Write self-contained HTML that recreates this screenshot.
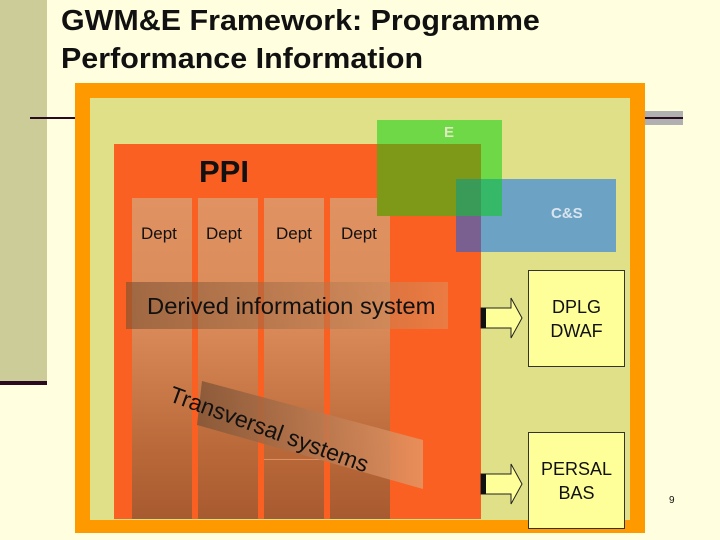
<!DOCTYPE html><html><head><style>
body{margin:0;width:720px;height:540px;background:#ffffdf;position:relative;overflow:hidden;font-family:"Liberation Sans",Arial,sans-serif}
div{position:absolute;box-sizing:border-box}
.t{font-weight:bold;font-size:29px;color:#111;left:61px;white-space:nowrap;transform:scaleX(1.05);transform-origin:0 0}
.dept{top:198px;height:321px;width:60px;background:linear-gradient(#e09262,#da8a58 40%,#b86838 80%,#a85a30)}
.dl{font-size:17px;color:#111;top:224px}
.box{background:#ffff99;border:1px solid #333;width:97px;height:97px;left:528px;font-size:18px;text-align:center;color:#111;line-height:24px}
</style></head><body>
<div style="left:0;top:0;width:47px;height:383px;background:#cccc99"></div>
<div style="left:0;top:381px;width:47px;height:4px;background:#2a0a20"></div>
<div class="t" style="top:5px">GWM&amp;E Framework: Programme</div>
<div class="t" style="top:43px">Performance Information</div>
<div style="left:30px;top:117px;width:50px;height:2px;background:#2a0a20"></div>
<div style="left:640px;top:111px;width:43px;height:14px;background:#b0b0b0"></div>
<div style="left:640px;top:117px;width:43px;height:2px;background:#2a0a20"></div>
<div style="left:75px;top:83px;width:570px;height:450px;background:#ff9900"></div>
<div style="left:90px;top:98px;width:540px;height:422px;background:#e0e088"></div>
<div style="left:114px;top:144px;width:367px;height:375px;background:#f96022"></div>
<div class="dept" style="left:132px"></div>
<div class="dept" style="left:198px"></div>
<div class="dept" style="left:264px"></div>
<div class="dept" style="left:330px"></div>
<div style="left:264px;top:459px;width:60px;height:1px;background:#e09060"></div>
<div style="left:199px;top:154px;font-size:31px;font-weight:bold;color:#111">PPI</div>
<div class="dl" style="left:141px">Dept</div>
<div class="dl" style="left:206px">Dept</div>
<div class="dl" style="left:276px">Dept</div>
<div class="dl" style="left:341px">Dept</div>
<div style="left:377px;top:120px;width:125px;height:96px;background:#6ed846"></div>
<div style="left:377px;top:144px;width:104px;height:72px;background:#7e9818"></div>
<div style="left:444px;top:124px;color:#dfe8c0;font-weight:bold;font-size:15px">E</div>
<div style="left:456px;top:179px;width:160px;height:73px;background:#6ca3c4"></div>
<div style="left:456px;top:216px;width:25px;height:36px;background:#7a6090"></div>
<div style="left:456px;top:179px;width:46px;height:37px;background:#35b868"></div>
<div style="left:456px;top:179px;width:25px;height:37px;background:#3a9a58"></div>
<div style="left:551px;top:205px;color:#d8e4ee;font-weight:bold;font-size:15px">C&amp;S</div>
<div style="left:126px;top:282px;width:322px;height:47px;background:linear-gradient(90deg,rgba(120,80,50,.6),rgba(220,150,100,.5))"></div>
<div style="left:147px;top:293px;font-size:23px;color:#111;white-space:nowrap;transform:scaleX(1.035);transform-origin:0 0">Derived information system</div>
<div style="left:197px;top:381px;width:226px;height:108px;background:linear-gradient(90deg,rgba(130,85,55,.85),rgba(230,150,100,.85));clip-path:polygon(5px 0,226px 59px,226px 108px,0 44px)"></div>
<div style="left:175px;top:381px;font-size:23px;color:#111;transform:rotate(20deg);transform-origin:0 0;white-space:nowrap">Transversal systems</div>
<div class="box" style="top:270px;padding-top:24px">DPLG<br>DWAF</div>
<div class="box" style="top:432px;padding-top:24px">PERSAL<br>BAS</div>
<svg style="position:absolute;left:478px;top:296px" width="50" height="44"><path d="M3,12H33V2L44,22L33,42V32H3Z" fill="#ffff99" stroke="#222" stroke-width="1"/><rect x="3" y="12" width="5" height="20" fill="#111"/></svg>
<svg style="position:absolute;left:478px;top:462px" width="50" height="44"><path d="M3,12H33V2L44,22L33,42V32H3Z" fill="#ffff99" stroke="#222" stroke-width="1"/><rect x="3" y="12" width="5" height="20" fill="#111"/></svg>
<div style="left:669px;top:495px;font-size:10px;color:#111">9</div>
</body></html>
